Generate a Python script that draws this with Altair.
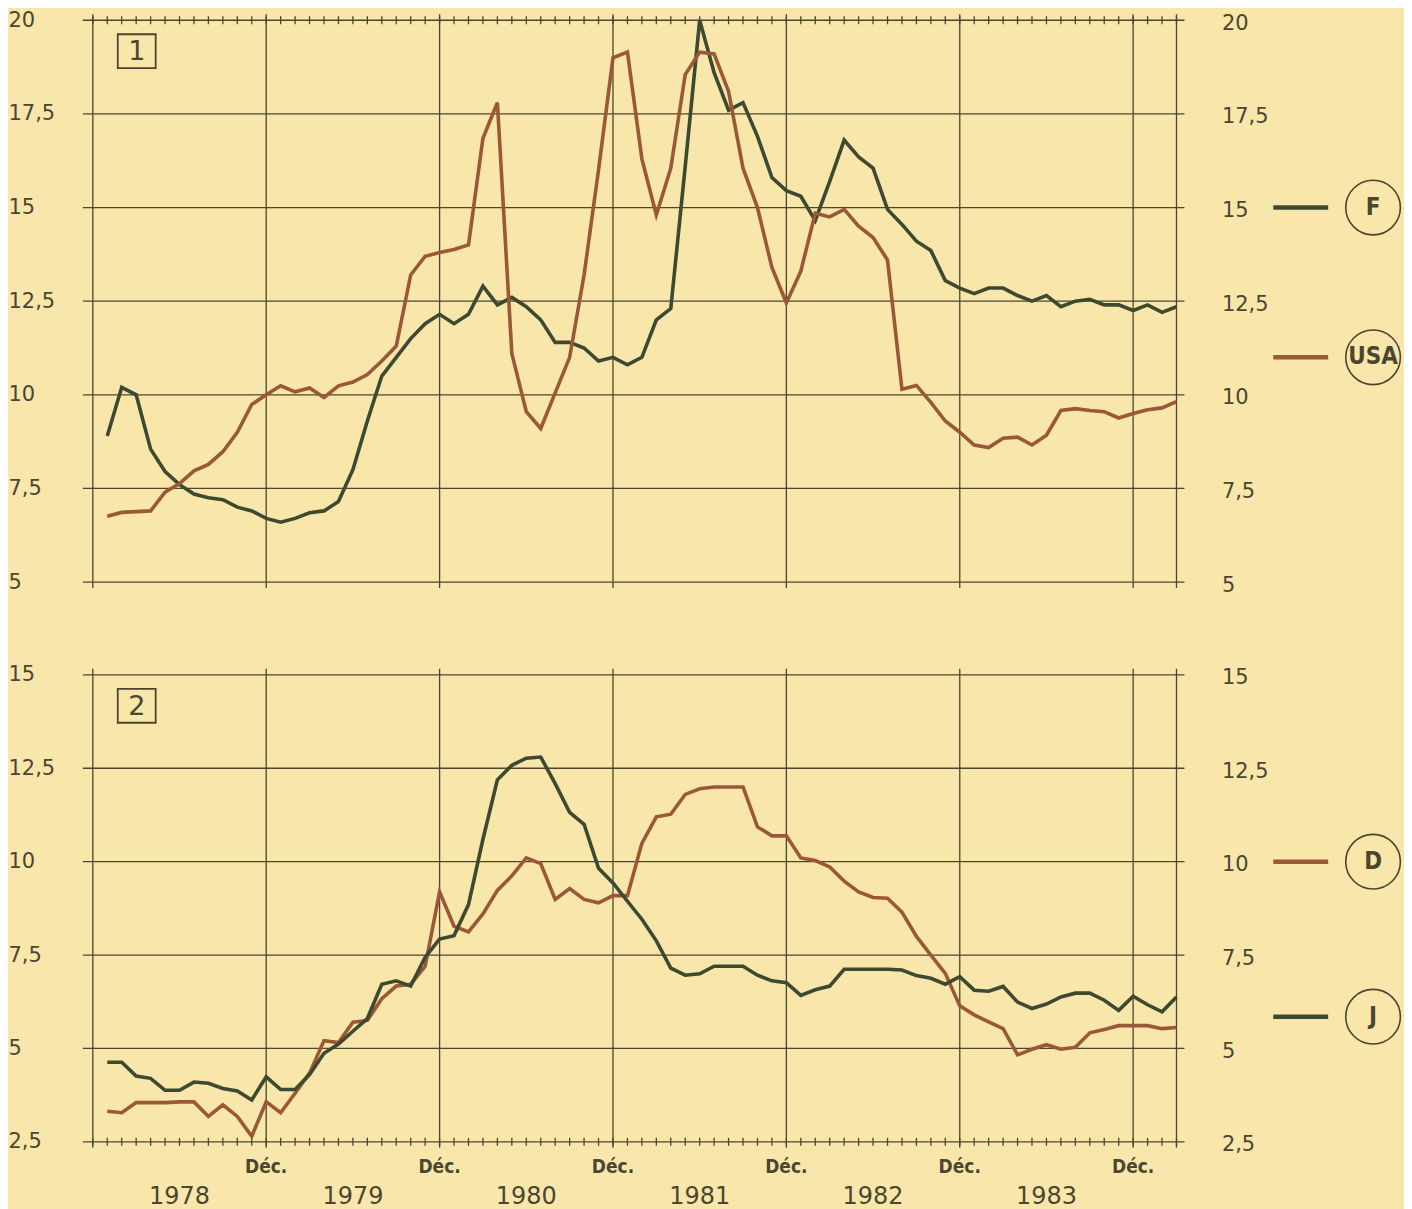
import altair as alt
import pandas as pd

# ---------------- data (month index: 0 = Dec 1977, 1 = Jan 1978 ... 75 = Mar 1984)
months = list(range(1, 76))

france = [8.9, 10.2, 10.0, 8.55, 7.95, 7.6, 7.35, 7.25, 7.2, 7.0,
          6.9, 6.7, 6.6, 6.7, 6.85, 6.9, 7.15, 8.0, 9.3, 10.5,
          11.0, 11.5, 11.9, 12.15, 11.9, 12.15, 12.9, 12.4, 12.6, 12.35,
          12.0, 11.4, 11.4, 11.25, 10.9, 11.0, 10.8, 11.0, 12.0, 12.3,
          16.1, 20.0, 18.6, 17.6, 17.8, 16.9, 15.8, 15.45, 15.3, 14.65,
          15.7, 16.8, 16.35, 16.05, 14.95, 14.55, 14.1, 13.85, 13.05, 12.85,
          12.7, 12.85, 12.85, 12.65, 12.5, 12.65, 12.35, 12.5, 12.55, 12.4,
          12.4, 12.25, 12.4, 12.2, 12.35]

usa = [6.76, 6.86, 6.88, 6.9, 7.4, 7.63, 7.97, 8.14, 8.48, 9.0,
       9.74, 10.0, 10.24, 10.08, 10.18, 9.93, 10.24, 10.34, 10.54, 10.9,
       11.3, 13.2, 13.7, 13.8, 13.88, 14.0, 16.85, 17.8, 11.1, 9.55,
       9.1, 10.05, 11.0, 13.2, 16.0, 19.0, 19.15, 16.3, 14.8, 16.05,
       18.55, 19.15, 19.1, 18.1, 16.05, 15.0, 13.4, 12.45, 13.3, 14.85,
       14.75, 14.95, 14.5, 14.2, 13.6, 10.15, 10.25, 9.8, 9.3, 9.0,
       8.66, 8.59, 8.84, 8.87, 8.66, 8.92, 9.58, 9.63, 9.58, 9.55,
       9.38, 9.5, 9.6, 9.65, 9.82]

allemagne = [3.32, 3.28, 3.55, 3.55, 3.55, 3.57, 3.57, 3.18, 3.49, 3.18,
             2.65, 3.57, 3.28, 3.8, 4.34, 5.21, 5.16, 5.7, 5.75, 6.33,
             6.67, 6.72, 7.2, 9.19, 8.27, 8.12, 8.6, 9.23, 9.62, 10.1,
             9.95, 8.99, 9.28, 8.99, 8.9, 9.09, 9.09, 10.49, 11.2, 11.27,
             11.8, 11.95, 12.0, 12.0, 12.0, 10.93, 10.69, 10.69, 10.1, 10.03,
             9.86, 9.48, 9.19, 9.04, 9.02, 8.65, 8.0, 7.5, 7.01, 6.14,
             5.9, 5.71, 5.53, 4.83, 4.98, 5.1, 4.98, 5.03, 5.42, 5.51,
             5.61, 5.61, 5.61, 5.53, 5.56]

japon = [4.63, 4.63, 4.26, 4.2, 3.88, 3.88, 4.1, 4.07, 3.93, 3.86,
         3.62, 4.24, 3.9, 3.9, 4.3, 4.87, 5.12, 5.46, 5.8, 6.72,
         6.81, 6.67, 7.44, 7.93, 8.02, 8.85, 10.6, 12.19, 12.58, 12.77,
         12.8, 12.09, 11.32, 11.0, 9.82, 9.43, 8.94, 8.46, 7.88, 7.15,
         6.96, 7.0, 7.2, 7.2, 7.2, 6.96, 6.81, 6.76, 6.42, 6.57,
         6.67, 7.12, 7.12, 7.12, 7.12, 7.1, 6.95, 6.88, 6.72, 6.92,
         6.56, 6.53, 6.66, 6.24, 6.07, 6.19, 6.38, 6.48, 6.48, 6.29,
         6.02, 6.4, 6.17, 5.98, 6.38]

grid_months = [0, 12, 24, 36, 48, 60, 72, 75]      # left edge, each "Déc.", right edge
dec_months = [12, 24, 36, 48, 60, 72]
dec_label = "Déc."
tick_months = list(range(0, 76))
year_labels = ["1978", "1979", "1980", "1981", "1982", "1983"]
year_mid = [6, 18, 30, 42, 54, 66]
yticks1 = [5, 7.5, 10, 12.5, 15, 17.5, 20]
yticks2 = [2.5, 5, 7.5, 10, 12.5, 15]
series_names = ["F", "USA", "D", "J"]

# ---------------- style
BG = "#F8E6AA"
GRID = "#4A4631"
TXT = "#4A4631"
GREEN = "#3D4A31"
BROWN = "#9A5836"
NUM_FONT = "DejaVu Sans"
BOLD_FONT = "Liberation Sans Narrow, DejaVu Sans Condensed, Roboto Condensed, Roboto, sans-serif"
W = 1086

xscale = alt.Scale(domain=[0, 75], nice=False, zero=False)
cscale = alt.Scale(domain=series_names, range=[GREEN, BROWN, BROWN, GREEN])


def panel(series, names, ydom, yticks, H, box_text, legend_rows, ticks_top, with_years):
    yscale = alt.Scale(domain=ydom, nice=False, zero=False)
    lab = "replace(format(datum.value, '~g'), '.', ',')"

    hgrid = alt.Chart(pd.DataFrame({"v": yticks})).mark_rule(
        color=GRID, strokeWidth=1.3
    ).encode(
        y=alt.Y("v:Q", scale=yscale, axis=alt.Axis(
            orient="left", values=yticks, labelExpr=lab, domain=False, ticks=False,
            tickSize=0, grid=False, labelFont=NUM_FONT, labelFontSize=21,
            labelColor=TXT, labelAlign="left", labelPadding=85,
            labelOverlap=False, labelBound=False, labelFlush=False, title=None)),
        x=alt.value(-10), x2=alt.value(W + 8),
    )

    vgrid = alt.Chart(pd.DataFrame({"m": grid_months})).mark_rule(
        color=GRID, strokeWidth=1.3
    ).encode(
        x=alt.X("m:Q", scale=xscale, axis=None),
        y=alt.value(-6), y2=alt.value(H + 6),
    )

    ty = -4 if ticks_top else H - 4
    mticks = alt.Chart(pd.DataFrame({"m": tick_months})).mark_rule(
        color=GRID, strokeWidth=1.3
    ).encode(
        x=alt.X("m:Q", scale=xscale, axis=None),
        y=alt.value(ty), y2=alt.value(ty + 8),
    )

    frames = []
    for name, vals in zip(names, series):
        frames.append(pd.DataFrame({"m": months, "value": vals, "series": name}))
    df = pd.concat(frames, ignore_index=True)
    lines = alt.Chart(df).mark_line(strokeWidth=3.6).encode(
        x=alt.X("m:Q", scale=xscale, axis=None),
        y=alt.Y("value:Q", scale=yscale, axis=alt.Axis(
            orient="right", values=yticks, labelExpr=lab, domain=False, ticks=False,
            tickSize=0, grid=False, labelFont=NUM_FONT, labelFontSize=21,
            labelColor=TXT, labelAlign="left", labelPadding=45, labelOffset=3,
            labelOverlap=False, labelBound=False, labelFlush=False, title=None)),
        color=alt.Color("series:N", scale=cscale, legend=None),
        detail="series:N",
    )

    box = alt.Chart(pd.DataFrame({"a": [0]})).mark_rect(
        filled=False, stroke=GRID, strokeWidth=1.8
    ).encode(x=alt.value(25), x2=alt.value(63), y=alt.value(14), y2=alt.value(48))
    box_t = alt.Chart(pd.DataFrame({"a": [0]})).mark_text(
        text=box_text, font=NUM_FONT, fontSize=27, color=TXT, baseline="middle", align="center"
    ).encode(x=alt.value(44), y=alt.value(32))

    layers = [vgrid, hgrid, mticks, lines, box, box_t]

    for (label, ly, fsize) in legend_rows:
        ldf = pd.DataFrame({"ly": [ly], "label": [label]})
        base = alt.Chart(ldf)
        layers.append(base.mark_rule(strokeWidth=4.5).encode(
            y=alt.Y("ly:Q", scale=yscale, axis=None),
            color=alt.Color("label:N", scale=cscale, legend=None),
            x=alt.value(W + 97), x2=alt.value(W + 152)))
        layers.append(base.mark_point(shape="circle", size=3000, filled=False,
                                      stroke=GRID, strokeWidth=1.6, opacity=1).encode(
            y=alt.Y("ly:Q", scale=yscale, axis=None), x=alt.value(W + 197)))
        layers.append(base.mark_text(font=BOLD_FONT, fontWeight="bold", fontSize=fsize,
                                     color=TXT, baseline="middle", align="center").encode(
            y=alt.Y("ly:Q", scale=yscale, axis=None), x=alt.value(W + 197), text="label:N"))

    if with_years:
        ddf = pd.DataFrame({"m": dec_months, "lab": [dec_label] * len(dec_months)})
        layers.append(alt.Chart(ddf).mark_text(
            font=BOLD_FONT, fontWeight="bold", fontSize=19, color=TXT,
            baseline="middle", align="center"
        ).encode(x=alt.X("m:Q", scale=xscale, axis=None), y=alt.value(H + 25), text="lab:N"))
        ydf = pd.DataFrame({"m": year_mid, "year": year_labels})
        layers.append(alt.Chart(ydf).mark_text(
            font=NUM_FONT, fontSize=24, color=TXT, baseline="middle", align="center"
        ).encode(x=alt.X("m:Q", scale=xscale, axis=None), y=alt.value(H + 55), text="year:N"))

    return alt.layer(*layers).resolve_axis(y="independent").properties(width=W, height=H)


p1 = panel([france, usa], ["F", "USA"], [5, 20], yticks1, 563, "1",
           [("F", 15.0, 24), ("USA", 11.0, 24)],
           ticks_top=True, with_years=False)
p2 = panel([allemagne, japon], ["D", "J"], [2.5, 15], yticks2, 468, "2",
           [("D", 10.0, 24), ("J", 5.85, 24)],
           ticks_top=False, with_years=True)

chart = alt.vconcat(p1, p2, spacing=69).properties(
    padding=0, background=BG
).configure_view(stroke=None)

chart.save("out.html", embed_options={"renderer": "svg", "actions": False})
